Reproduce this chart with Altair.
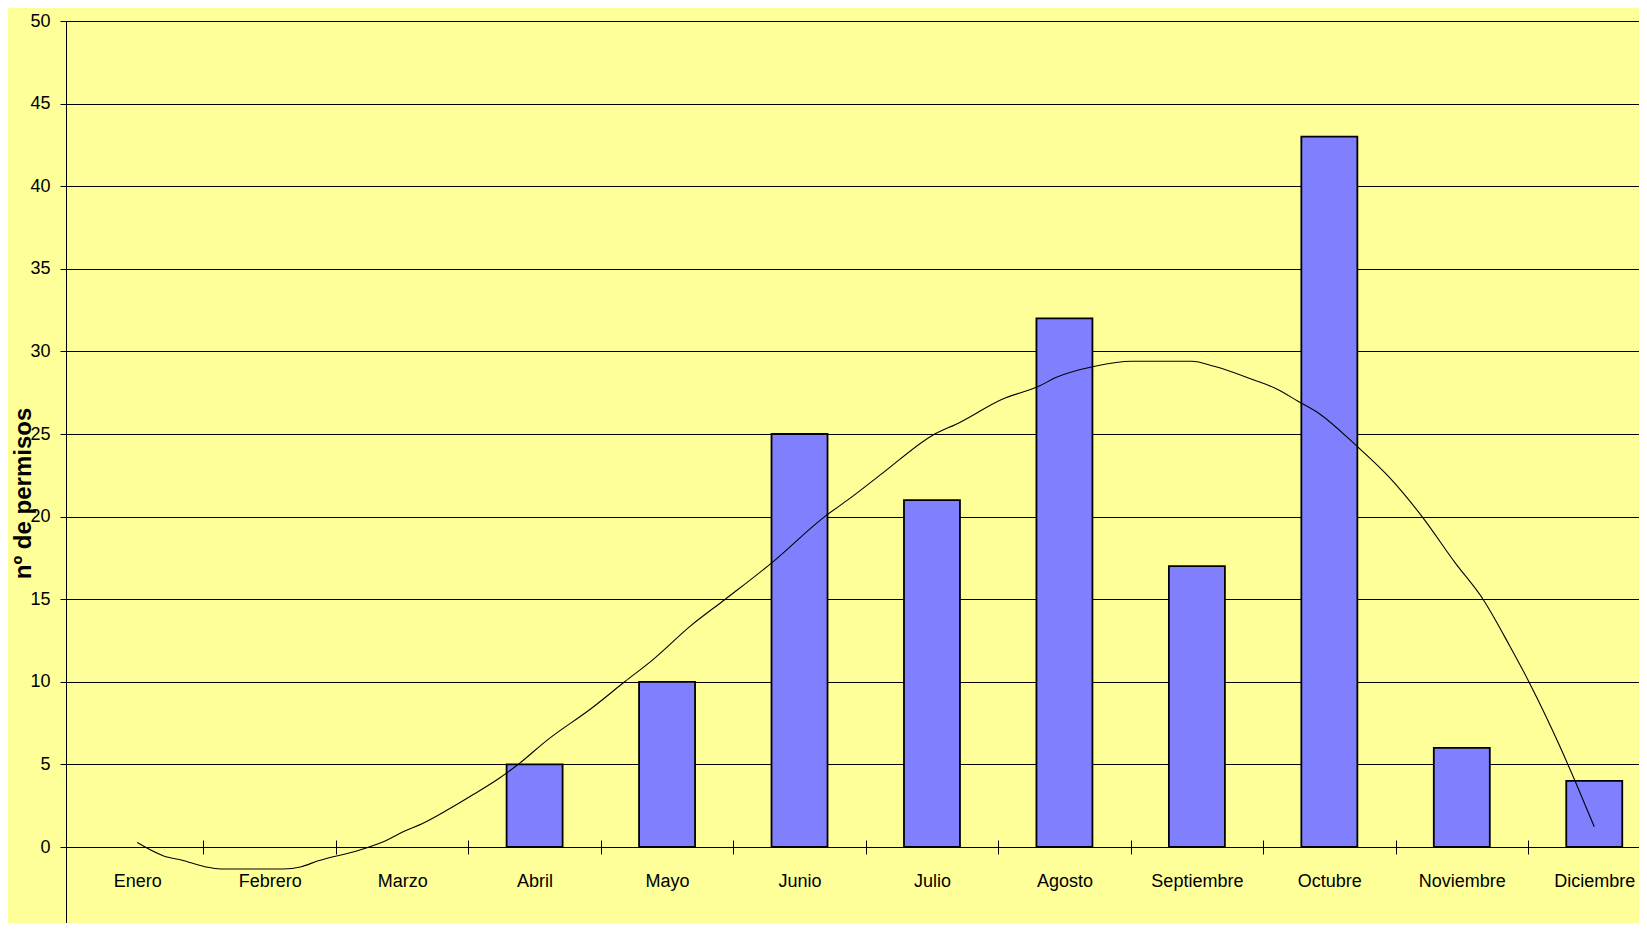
import altair as alt
import pandas as pd

# ---- data ----
meses = ["Enero", "Febrero", "Marzo", "Abril", "Mayo", "Junio", "Julio",
         "Agosto", "Septiembre", "Octubre", "Noviembre", "Diciembre"]
permisos = [0, 0, 0, 5, 10, 25, 21, 32, 17, 43, 6, 4]

# polynomial trend line (x in month index units)
tend_x = [0.00, 0.20, 0.34, 0.51, 0.63, 1.10, 1.24, 1.36, 1.68, 1.88, 2.02,
          2.15, 2.35, 2.54, 2.73, 2.86, 3.10, 3.43, 3.68, 3.88, 4.18, 4.44,
          4.79, 5.19, 5.38, 5.63, 6.00, 6.21, 6.53, 6.81, 6.93, 7.23, 7.51,
          7.96, 8.13, 8.42, 8.61, 8.76, 8.93, 9.19, 9.45, 9.70, 9.95, 10.16,
          10.36, 10.51, 10.74, 10.86, 11.00]
tend_y = [0.27, -0.54, -0.80, -1.19, -1.33, -1.33, -1.19, -0.85, -0.18, 0.40,
          0.97, 1.41, 2.28, 3.19, 4.15, 4.90, 6.50, 8.40, 10.00, 11.25, 13.40,
          15.00, 17.20, 20.00, 21.10, 22.65, 24.90, 25.70, 27.10, 27.90, 28.40,
          29.10, 29.40, 29.40, 29.10, 28.30, 27.70, 27.00, 26.20, 24.40, 22.40,
          20.00, 17.20, 15.00, 12.20, 9.95, 6.10, 3.90, 1.23]

y_ticks = [0, 5, 10, 15, 20, 25, 30, 35, 40, 45, 50]
month_idx = list(range(12))
sep_ticks = [i + 0.5 for i in range(11)]

bars_df = pd.DataFrame({"idx": month_idx, "mes": meses, "permisos": permisos})
trend_df = pd.DataFrame({"x": tend_x, "y": tend_y})

FONT = "'Liberation Sans', Arial, sans-serif"
BG = "#FFFF99"

W = 1573
H = 902
x_scale = alt.Scale(domain=[-0.5, 11.3], nice=False, zero=False)
y_scale = alt.Scale(domain=[-4.6, 50], nice=False, zero=False)
zero_offset = -round(4.6 * H / 54.6)

label_expr = "[" + ",".join("'%s'" % m for m in meses) + "][datum.value]"

y_axis = alt.Axis(
    values=y_ticks, title="nº de permisos", grid=True, gridColor="#000000",
    gridOpacity=1, gridWidth=1, domainColor="#000000", domainWidth=1,
    tickColor="#000000", tickSize=6, labelPadding=10, labelFont=FONT,
    labelFontSize=18, labelColor="#000000", titleFont="Liberation Sans",
    titleFontSize=24, titleFontWeight="bold", titleColor="#000000",
    titleAngle=270, titleX=-43, titleY=472, titleAlign="center",
    titleBaseline="middle",
)

bars = alt.Chart(bars_df).transform_filter("datum.permisos > 0").mark_bar(
    size=56, color="#8080FF", stroke="#000000", strokeWidth=1.8
).encode(
    x=alt.X("idx:Q", scale=x_scale, axis=alt.Axis(
        orient="bottom", values=month_idx, labelExpr=label_expr, ticks=False,
        domain=True, domainColor="#000000", domainWidth=1, grid=False,
        offset=zero_offset, labelPadding=25, labelFont=FONT, labelFontSize=18,
        labelColor="#000000", labelFlush=False, labelOverlap=False, title=None)),
    y=alt.Y("permisos:Q", scale=y_scale, axis=y_axis),
)

trend = alt.Chart(trend_df).mark_line(
    color="#000000", strokeWidth=1.1, interpolate="monotone"
).encode(
    x=alt.X("x:Q", scale=x_scale, axis=alt.Axis(
        orient="bottom", values=sep_ticks, labels=False, domain=False,
        ticks=True, tickSize=14, tickColor="#000000", tickWidth=1, grid=False,
        offset=zero_offset - 7, title=None)),
    y=alt.Y("y:Q", scale=y_scale, axis=y_axis),
)

chart = alt.layer(bars, trend).resolve_axis(x="independent").properties(
    width=W, height=H,
    autosize=alt.AutoSizeParams(type="none"),
    padding={"left": 58, "top": 13, "right": 0, "bottom": 0},
    background=BG,
).configure_view(stroke=None, fill=BG)

chart.save("out.html", embed_options={"renderer": "svg", "actions": False})
